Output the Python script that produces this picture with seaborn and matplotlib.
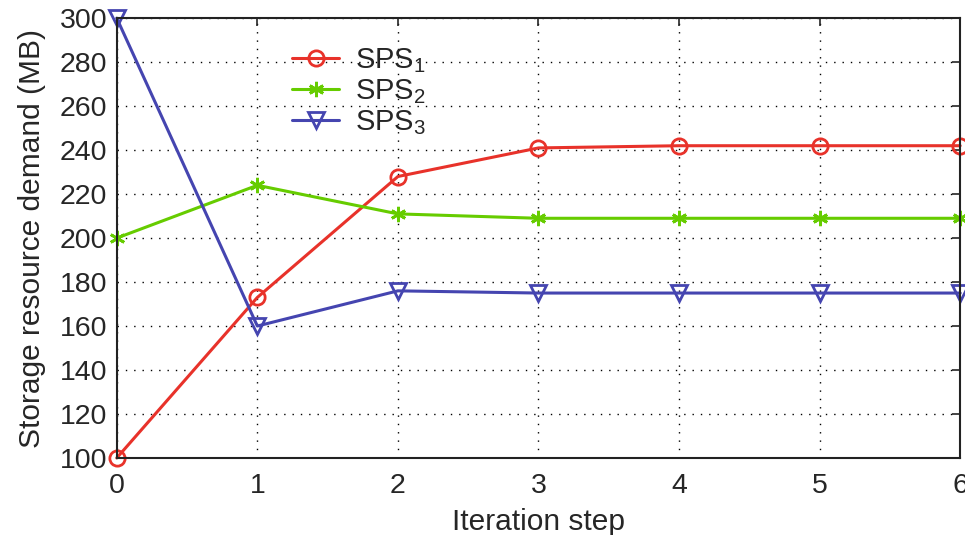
import matplotlib
matplotlib.use("Agg")
import matplotlib.pyplot as plt
import pandas as pd
import seaborn as sns

steps = [0, 1, 2, 3, 4, 5, 6]
sps1 = [100, 173, 228, 241, 242, 242, 242]
sps2 = [200, 224, 211, 209, 209, 209, 209]
sps3 = [300, 160, 176, 175, 175, 175, 175]
labels = [r"$\mathregular{SPS_1}$", r"$\mathregular{SPS_2}$", r"$\mathregular{SPS_3}$"]
colors = ["#e8322a", "#66cc00", "#4545b0"]
markers = ["o", (6, 2, 0), "v"]

sns.set_style("white")
plt.rcParams["font.family"] = ["Liberation Sans", "DejaVu Sans"]
plt.rcParams["mathtext.fontset"] = "custom"
plt.rcParams["mathtext.rm"] = "Liberation Sans"

fig, ax = plt.subplots(figsize=(9.65, 5.35), dpi=100)
fig.subplots_adjust(left=0.121, right=0.995, top=0.966, bottom=0.144)

for vals, lab, col, mk in zip([sps1, sps2, sps3], labels, colors, markers):
    df = pd.DataFrame({"step": steps, "demand": vals})
    sns.lineplot(
        data=df, x="step", y="demand", ax=ax,
        color=col, marker=mk, markersize=11, markeredgewidth=2,
        markerfacecolor="none" if mk != (6, 2, 0) else col,
        markeredgecolor=col, linewidth=2.2, label=lab, clip_on=False
    )

ax.set_xlim(0, 6)
ax.set_ylim(100, 300)
ax.set_xticks(range(0, 7))
ax.set_yticks(range(100, 301, 20))
ax.grid(True, linestyle=(0, (1, 5)), color="black", linewidth=1)
ax.tick_params(direction="in", top=True, right=True, labelsize=20.5, length=6, width=1.2)
ax.tick_params(axis="x", pad=11)
ax.tick_params(axis="y", pad=7)
for s in ax.spines.values():
    s.set_linewidth(1.5)
    s.set_color("#222222")

ax.set_xlabel("Iteration step", fontsize=21.5, labelpad=6)
ax.set_ylabel("Storage resource demand (MB)", fontsize=21.5, labelpad=10)

leg = ax.legend(loc="upper left", bbox_to_anchor=(0.208, 0.937), frameon=False,
                fontsize=21, handlelength=1.6, labelspacing=0.08, handletextpad=0.55,
                borderpad=0, borderaxespad=0)

plt.savefig("out.png", dpi=100)
